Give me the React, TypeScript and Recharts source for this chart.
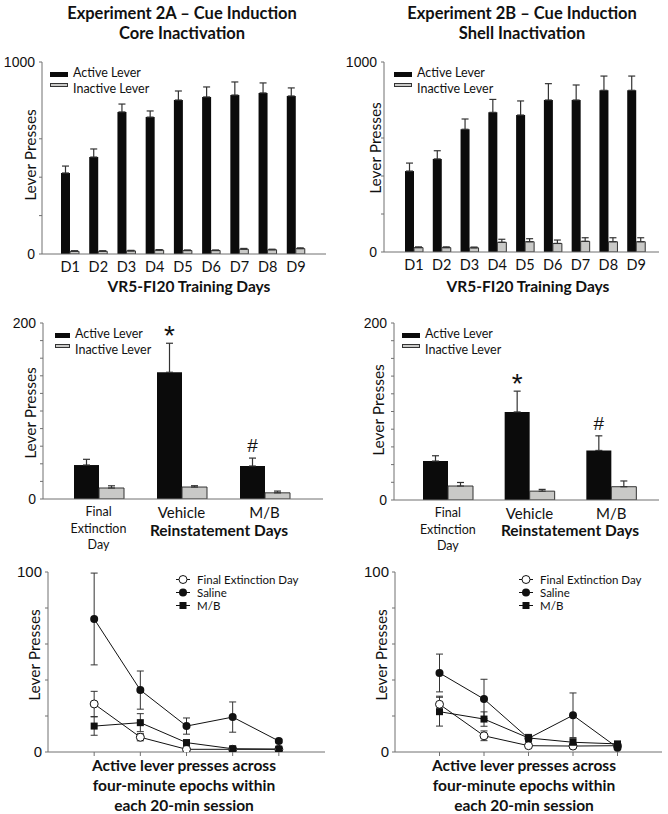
import React from 'react';
import { BarChart, Bar, XAxis, YAxis, ErrorBar, Legend, LabelList, LineChart, Line } from 'recharts';

// training days (VR5-FI20)
const days = ['D1', 'D2', 'D3', 'D4', 'D5', 'D6', 'D7', 'D8', 'D9'];
const coreTrainActive = [422, 505, 740, 713, 802, 818, 828, 839, 823];
const coreTrainActiveErr = [36, 42, 41, 32, 47, 52, 68, 52, 42];
const coreTrainInactive = [14, 14, 16, 20, 18, 18, 25, 22, 28];
const coreTrainInactiveErr = [3, 3, 3, 3, 3, 3, 4, 3, 4];
const shellTrainActive = [426, 490, 646, 735, 721, 800, 800, 851, 851];
const shellTrainActiveErr = [42, 43, 54, 68, 74, 86, 79, 75, 75];
const shellTrainInactive = [23, 23, 22, 51, 54, 45, 56, 54, 54];
const shellTrainInactiveErr = [4, 4, 4, 16, 16, 18, 19, 21, 21];
const trainTicks = [0, 200, 400, 600, 1000];

// reinstatement days
const reinstDays = ['Final Extinction Day', 'Vehicle', 'M/B'];
const reinstMarks = ['', '*', '#'];
const coreReinstActive = [38.6, 144, 37.5];
const coreReinstActiveErr = [6.5, 33, 9];
const coreReinstInactive = [12.5, 13.6, 7];
const coreReinstInactiveErr = [2.5, 1.5, 2];
const shellReinstActive = [44, 99.5, 56];
const shellReinstActiveErr = [6, 23.5, 16.5];
const shellReinstInactive = [15.8, 10, 15];
const shellReinstInactiveErr = [4, 2, 6.5];
const reinstTicks = [0, 20, 40, 60, 80, 100, 120, 140, 160, 180, 200];

// four-minute epochs
const epochs = [1, 2, 3, 4, 5];
const coreFinal = [26.7, 8.2, 1.5, 1.5, 1.5];
const coreFinalErr = [7, 2, 0.5, 0.5, 0.5];
const coreSaline = [73.9, 34.4, 14.4, 19.4, 6.1];
const coreSalineErr = [25.5, 10.6, 4.5, 8.4, 1];
const coreMB = [14.4, 16.3, 5.2, 1.8, 1.6];
const coreMBErr = [5.1, 5, 1.5, 0.5, 0.5];
const shellFinal = [26.5, 9, 3.5, 3.3, 3.5];
const shellFinalErr = [4.5, 2.7, 1, 0.5, 0.5];
const shellSaline = [43.9, 29.4, 7.6, 20.4, 2.4];
const shellSalineErr = [10.5, 11, 2, 12.4, 1];
const shellMB = [22.4, 18.3, 7.8, 5.4, 4.5];
const shellMBErr = [8, 4, 2, 2, 1];
const epochTicks = [0, 20, 40, 60, 80, 100];
const lineOrder = ['fin', 'sal', 'mb'];

const axisColor = '#707070';
const frameColor = '#858585';
const font = 'Lato, "Open Sans", sans-serif';
const tickFont = '"Liberation Sans", Arial, sans-serif';

const barRows = (cats: string[], act: number[], actErr: number[], ina: number[], inaErr: number[], marks?: string[]) =>
  cats.map((cat, i) => ({
    cat,
    active: act[i],
    activeErr: [0, actErr[i]],
    inactive: ina[i],
    inactiveErr: [0, inaErr[i]],
    mark: marks ? marks[i] : '',
  }));

const lineRows = (f: number[], fe: number[], s: number[], se: number[], m: number[], me: number[]) =>
  epochs.map((epoch, i) => ({
    epoch,
    fin: f[i], finErr: fe[i],
    sal: s[i], salErr: se[i],
    mb: m[i], mbErr: me[i],
  }));

const coreTrain = barRows(days, coreTrainActive, coreTrainActiveErr, coreTrainInactive, coreTrainInactiveErr);
const shellTrain = barRows(days, shellTrainActive, shellTrainActiveErr, shellTrainInactive, shellTrainInactiveErr);
const coreReinst = barRows(reinstDays, coreReinstActive, coreReinstActiveErr, coreReinstInactive, coreReinstInactiveErr, reinstMarks);
const shellReinst = barRows(reinstDays, shellReinstActive, shellReinstActiveErr, shellReinstInactive, shellReinstInactiveErr, reinstMarks);
const coreEpochs = lineRows(coreFinal, coreFinalErr, coreSaline, coreSalineErr, coreMB, coreMBErr);
const shellEpochs = lineRows(shellFinal, shellFinalErr, shellSaline, shellSalineErr, shellMB, shellMBErr);

const Txt = ({ x, y, size, bold, rotate, children }: any) => (
  <div
    style={{
      position: 'absolute', left: x, top: y, whiteSpace: 'nowrap', fontFamily: font,
      fontSize: size, fontWeight: bold ? 700 : 400, color: '#111', lineHeight: 1,
      transform: `translate(-50%, -50%)${rotate ? ' rotate(-90deg)' : ''}`,
    }}
  >
    {children}
  </div>
);

const BarLegend = ({ payload, swatchW }: any) => (
  <div style={{ fontFamily: font, fontSize: 12.5, color: '#111' }}>
    {(payload || []).map((e: any) => {
      const dark = e.dataKey === 'active';
      return (
        <div key={e.value} style={{ display: 'flex', alignItems: 'center', height: 16 }}>
          <span
            style={{
              display: 'inline-block', width: swatchW, height: dark ? 5 : 4, marginRight: 5,
              marginTop: dark ? 4 : -6, background: dark ? '#0b0b0b' : '#c9c9c7',
              border: dark ? 'none' : '1px solid #333', boxSizing: 'border-box',
            }}
          />
          <span>{e.value}</span>
        </div>
      );
    })}
  </div>
);

const Marker = ({ kind, cx, cy }: any) => {
  if (kind === 'mb') return <rect x={cx - 3.5} y={cy - 3.5} width={7} height={7} fill="#111" />;
  if (kind === 'sal') return <circle cx={cx} cy={cy} r={4} fill="#111" />;
  return <circle cx={cx} cy={cy} r={4} fill="#fff" stroke="#111" strokeWidth={1} />;
};

const LineLegend = ({ payload }: any) => {
  const items = [...(payload || [])].sort(
    (a: any, b: any) => lineOrder.indexOf(a.dataKey) - lineOrder.indexOf(b.dataKey),
  );
  return (
    <div style={{ fontFamily: font, fontSize: 11.5, lineHeight: '13px', color: '#111' }}>
      {items.map((e: any) => (
        <div key={e.value} style={{ display: 'flex', alignItems: 'center', height: 13 }}>
          <svg width={22} height={11} style={{ marginRight: 3 }}>
            <line x1={4} y1={5.5} x2={18} y2={5.5} stroke="#111" strokeWidth={1} />
            <Marker kind={e.dataKey} cx={11} cy={5.5} />
          </svg>
          <span>{e.value}</span>
        </div>
      ))}
    </div>
  );
};

const ReinstTick = ({ x, y, payload }: any) => {
  const v = payload.value as string;
  if (v === 'Final Extinction Day') {
    return (
      <text x={x} y={y} textAnchor="middle" fontFamily={font} fontSize={12.5} fill="#111">
        {['Final', 'Extinction', 'Day'].map((w, i) => (
          <tspan key={w} x={x} dy={i === 0 ? 15 : 16.5}>{w}</tspan>
        ))}
      </text>
    );
  }
  return (
    <text x={x} y={y + 17} textAnchor="middle" fontFamily={font} fontSize={15} fill="#111">{v}</text>
  );
};

const makeMark = (data: any[]) => (p: any) => {
  const d = data[p.index];
  if (!d || !d.mark) return null;
  const errPx = (p.height * d.activeErr[1]) / d.active;
  const star = d.mark === '*';
  return (
    <text
      x={p.x + p.width / 2} y={p.y - errPx - (star ? -2 : 6)} textAnchor="middle"
      fontFamily={tickFont} fontSize={star ? 28 : 19} fill="#111"
    >
      {d.mark}
    </text>
  );
};

function BarPanel({ box, margin, yWidth, data, yMax, yTicks, barSize, padding, legendAt, swatchW, reinst }: any) {
  return (
    <div style={{ position: 'absolute', left: box.left, top: box.top }}>
      <BarChart width={box.width} height={box.height} data={data} margin={margin} barGap={0} barCategoryGap={0}>
        <XAxis
          dataKey="cat" interval={0} padding={padding} height={reinst ? 55 : 30}
          axisLine={{ stroke: axisColor }} tickLine={false} tickSize={reinst ? 0 : 6}
          tick={reinst ? <ReinstTick /> : { fontSize: 14.5, fontFamily: font, fill: '#111' }}
        />
        <XAxis
          xAxisId="top" orientation="top" dataKey="cat" height={0} padding={padding}
          tick={false} tickLine={false} axisLine={{ stroke: frameColor }}
        />
        <YAxis
          domain={[0, yMax]} ticks={yTicks} interval={0} width={yWidth} allowDataOverflow
          axisLine={{ stroke: axisColor }} tickLine={{ stroke: axisColor }} tickSize={3} tickMargin={4}
          tickFormatter={(v: number) => (v === 0 || v === yMax ? String(v) : '')}
          tick={{ fontSize: 14, fontFamily: tickFont, fill: '#111' }}
        />
        <YAxis
          yAxisId="right" orientation="right" width={0} domain={[0, yMax]}
          tick={false} tickLine={false} axisLine={{ stroke: frameColor }}
        />
        <Legend
          layout="vertical" align="center" verticalAlign="middle"
          wrapperStyle={{ left: legendAt.left, top: legendAt.top, width: 'auto', height: 'auto' }}
          content={(p: any) => <BarLegend payload={p.payload} swatchW={swatchW} />}
        />
        <Bar dataKey="active" name="Active Lever" fill="#0b0b0b" barSize={barSize} isAnimationActive={false}>
          <ErrorBar dataKey="activeErr" direction="y" width={3.5} stroke="#333" strokeWidth={1.2} />
          <LabelList dataKey="active" content={makeMark(data)} />
        </Bar>
        <Bar
          dataKey="inactive" name="Inactive Lever" fill="#c9c9c7" stroke="#333" strokeWidth={1}
          barSize={barSize} isAnimationActive={false}
        >
          <ErrorBar dataKey="inactiveErr" direction="y" width={3.5} stroke="#333" strokeWidth={1.2} />
        </Bar>
      </BarChart>
    </div>
  );
}

function EpochPanel({ box, margin, yWidth, data, legendAt }: any) {
  const dot = (kind: string) => (p: any) => <Marker key={`${kind}${p.index}`} kind={kind} cx={p.cx} cy={p.cy} />;
  return (
    <div style={{ position: 'absolute', left: box.left, top: box.top }}>
      <LineChart width={box.width} height={box.height} data={data} margin={margin}>
        <XAxis
          type="number" dataKey="epoch" domain={[0, 6]} ticks={epochs} interval={0} height={10} allowDataOverflow
          axisLine={{ stroke: axisColor }} tickLine={{ stroke: axisColor }} tickSize={4} tickFormatter={() => ''}
        />
        <XAxis
          xAxisId="top" orientation="top" type="number" dataKey="epoch" domain={[0, 6]} height={0}
          tick={false} tickLine={false} axisLine={{ stroke: frameColor }}
        />
        <YAxis
          domain={[0, 100]} ticks={epochTicks} interval={0} width={yWidth} allowDataOverflow
          axisLine={{ stroke: axisColor }} tickLine={{ stroke: axisColor }} tickSize={3} tickMargin={3}
          tickFormatter={(v: number) => (v === 0 || v === 100 ? String(v) : '')}
          tick={{ fontSize: 15, fontFamily: tickFont, fill: '#111' }}
        />
        <YAxis
          yAxisId="right" orientation="right" width={0} domain={[0, 100]}
          tick={false} tickLine={false} axisLine={{ stroke: frameColor }}
        />
        <Legend
          layout="vertical" align="center" verticalAlign="middle"
          wrapperStyle={{ left: legendAt.left, top: legendAt.top, width: 'auto', height: 'auto' }}
          content={(p: any) => <LineLegend payload={p.payload} />}
        />
        <Line dataKey="fin" name="Final Extinction Day" stroke="#111" strokeWidth={1} dot={dot('fin')} isAnimationActive={false}>
          <ErrorBar dataKey="finErr" direction="y" width={3.5} stroke="#333" strokeWidth={1} />
        </Line>
        <Line dataKey="sal" name="Saline" stroke="#111" strokeWidth={1} dot={dot('sal')} isAnimationActive={false}>
          <ErrorBar dataKey="salErr" direction="y" width={3.5} stroke="#333" strokeWidth={1} />
        </Line>
        <Line dataKey="mb" name="M/B" stroke="#111" strokeWidth={1} dot={dot('mb')} isAnimationActive={false}>
          <ErrorBar dataKey="mbErr" direction="y" width={3.5} stroke="#333" strokeWidth={1} />
        </Line>
      </LineChart>
    </div>
  );
}

export default function App() {
  return (
    <div style={{ position: 'absolute', left: 0, top: 0, width: 668, height: 814, background: '#fff', overflow: 'hidden' }}>
      <Txt x={182} y={13} size={16.5} bold>Experiment 2A – Cue Induction</Txt>
      <Txt x={182} y={33} size={16.5} bold>Core Inactivation</Txt>
      <Txt x={522} y={13} size={16.5} bold>Experiment 2B – Cue Induction</Txt>
      <Txt x={522} y={33} size={16.5} bold>Shell Inactivation</Txt>

      <BarPanel
        box={{ left: 0, top: 0, width: 334, height: 300 }}
        margin={{ top: 62, right: 8, bottom: 16, left: 0 }} yWidth={42}
        data={coreTrain} yMax={1000} yTicks={trainTicks} barSize={9}
        padding={{ left: 14, right: 16 }} legendAt={{ left: 50, top: 64 }} swatchW={18}
      />
      <BarPanel
        box={{ left: 334, top: 0, width: 334, height: 300 }}
        margin={{ top: 62, right: 9, bottom: 18, left: 0 }} yWidth={50}
        data={shellTrain} yMax={1000} yTicks={trainTicks} barSize={9}
        padding={{ left: 16, right: 9 }} legendAt={{ left: 60, top: 64 }} swatchW={18}
      />
      <Txt x={189} y={287} size={15.5} bold>VR5-FI20 Training Days</Txt>
      <Txt x={528} y={287} size={15.5} bold>VR5-FI20 Training Days</Txt>

      <BarPanel
        box={{ left: 0, top: 300, width: 334, height: 260 }}
        margin={{ top: 23, right: 11, bottom: 6, left: 0 }} yWidth={43}
        data={coreReinst} yMax={200} yTicks={reinstTicks} barSize={25}
        padding={{ left: 14, right: 17 }} legendAt={{ left: 55, top: 25 }} swatchW={15} reinst
      />
      <BarPanel
        box={{ left: 334, top: 300, width: 334, height: 260 }}
        margin={{ top: 23, right: 9, bottom: 5, left: 0 }} yWidth={60}
        data={shellReinst} yMax={200} yTicks={reinstTicks} barSize={25}
        padding={{ left: 13, right: 7 }} legendAt={{ left: 68, top: 25 }} swatchW={18} reinst
      />
      <Txt x={219} y={531} size={15.5} bold>Reinstatement Days</Txt>
      <Txt x={570} y={531} size={15.5} bold>Reinstatement Days</Txt>

      <EpochPanel
        box={{ left: 0, top: 560, width: 334, height: 254 }}
        margin={{ top: 12, right: 9, bottom: 52, left: 0 }} yWidth={48}
        data={coreEpochs} legendAt={{ left: 172, top: 13 }}
      />
      <EpochPanel
        box={{ left: 334, top: 560, width: 334, height: 254 }}
        margin={{ top: 12, right: 6, bottom: 52, left: 0 }} yWidth={61}
        data={shellEpochs} legendAt={{ left: 181, top: 13 }}
      />
      {[0, 1].map((k) => (
        <React.Fragment key={k}>
          <Txt x={k ? 524 : 184} y={766} size={15.5} bold>Active lever presses across</Txt>
          <Txt x={k ? 524 : 184} y={786} size={15.5} bold>four-minute epochs within</Txt>
          <Txt x={k ? 524 : 184} y={806} size={15.5} bold>each 20-min session</Txt>
        </React.Fragment>
      ))}

      <Txt x={31} y={155} size={15.5} rotate>Lever Presses</Txt>
      <Txt x={376} y={148} size={15.5} rotate>Lever Presses</Txt>
      <Txt x={31} y={413} size={15.5} rotate>Lever Presses</Txt>
      <Txt x={379} y={410} size={15.5} rotate>Lever Presses</Txt>
      <Txt x={35} y={655} size={15.5} rotate>Lever Presses</Txt>
      <Txt x={382} y={655} size={15.5} rotate>Lever Presses</Txt>
    </div>
  );
}
